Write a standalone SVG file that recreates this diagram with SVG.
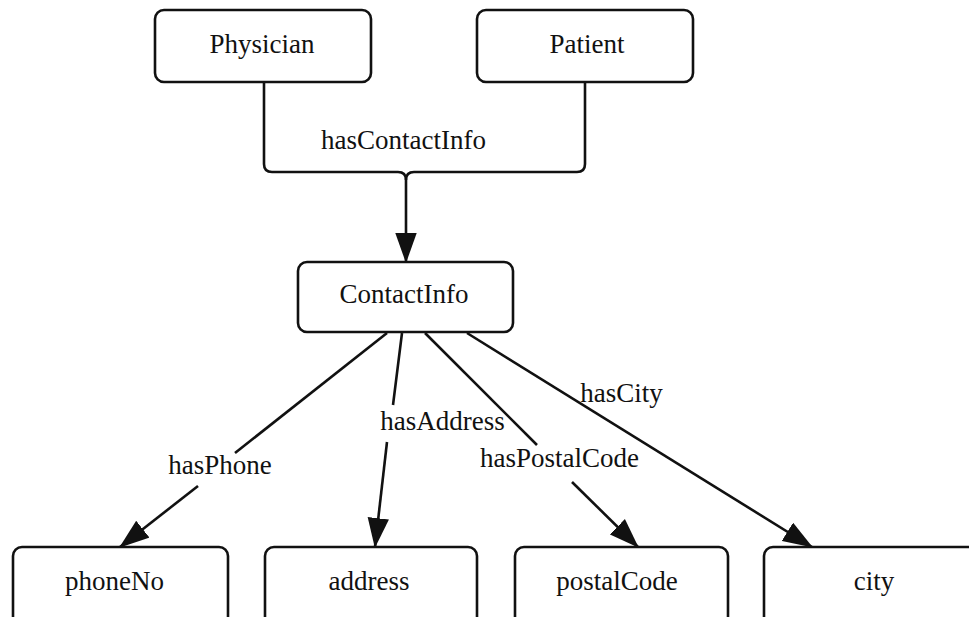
<svg xmlns="http://www.w3.org/2000/svg" width="969" height="617" viewBox="0 0 969 617">
<style>
.box{fill:#fff;stroke:#111;stroke-width:2.6}
.t{font-family:'Liberation Serif','DejaVu Serif',serif;font-size:27px;fill:#111;text-anchor:middle}
.e{fill:none;stroke:#111;stroke-width:2.6}
</style>
<defs>
<marker id="ah" markerUnits="userSpaceOnUse" markerWidth="30" markerHeight="22" viewBox="0 0 28 20" refX="27" refY="10" orient="auto">
<path d="M0,0 L28,10 L0,20 Z" fill="#111"/>
</marker>
</defs>
<rect width="969" height="617" fill="#fff"/>
<g id="connectors">
<path class="e" d="M264,82 V164 Q264,172 272,172 H398 Q406,172 406,180 V262" marker-end="url(#ah)"/>
<path class="e" d="M585,82 V164 Q585,172 577,172 H414 Q406,172 406,180"/>
<line class="e" x1="387" y1="333" x2="235" y2="453"/>
<line class="e" x1="198" y1="486" x2="120" y2="547" marker-end="url(#ah)"/>
<line class="e" x1="402" y1="333" x2="393" y2="405"/>
<line class="e" x1="387" y1="442" x2="375" y2="547" marker-end="url(#ah)"/>
<line class="e" x1="425" y1="333" x2="537" y2="445"/>
<line class="e" x1="572" y1="482" x2="638" y2="547" marker-end="url(#ah)"/>
<line class="e" x1="467" y1="333" x2="812" y2="547" marker-end="url(#ah)"/>
<text class="t" x="403.5" y="149" font-family="Liberation Serif">hasContactInfo</text>
<text class="t" x="220" y="474" font-family="Liberation Serif">hasPhone</text>
<text class="t" x="442.5" y="430" font-family="Liberation Serif">hasAddress</text>
<text class="t" x="559.5" y="467" font-family="Liberation Serif">hasPostalCode</text>
<text class="t" x="621.5" y="402" font-family="Liberation Serif">hasCity</text>
</g>
<g id="Physician"><rect class="box" x="155" y="10" width="216" height="72" rx="9"/><text class="t" x="262" y="53" font-family="Liberation Serif">Physician</text></g>
<g id="Patient"><rect class="box" x="477" y="10" width="216" height="72" rx="9"/><text class="t" x="587" y="53" font-family="Liberation Serif">Patient</text></g>
<g id="ContactInfo"><rect class="box" x="298" y="262" width="215" height="70" rx="9"/><text class="t" x="404" y="303" font-family="Liberation Serif">ContactInfo</text></g>
<g id="phoneNo"><rect class="box" x="13" y="547" width="215" height="90" rx="9"/><text class="t" x="114.5" y="590" font-family="Liberation Serif">phoneNo</text></g>
<g id="address"><rect class="box" x="265" y="547" width="212" height="90" rx="9"/><text class="t" x="369" y="590" font-family="Liberation Serif">address</text></g>
<g id="postalCode"><rect class="box" x="515" y="547" width="213" height="90" rx="9"/><text class="t" x="617" y="590" font-family="Liberation Serif">postalCode</text></g>
<g id="city"><rect class="box" x="764" y="547" width="215" height="90" rx="9"/><text class="t" x="874" y="590" font-family="Liberation Serif">city</text></g>
</svg>
